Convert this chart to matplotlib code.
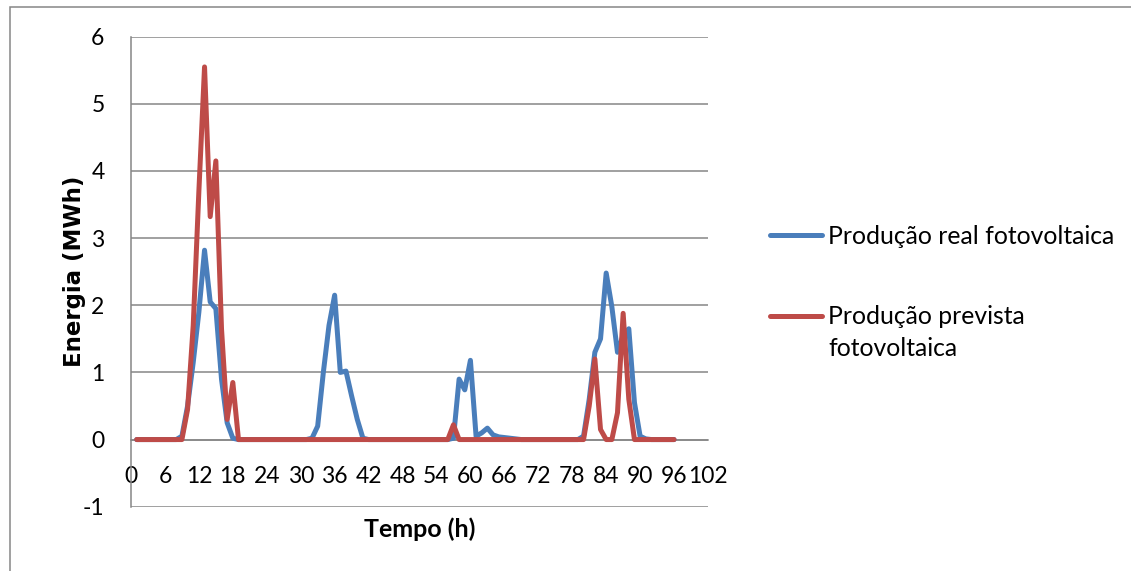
import matplotlib
matplotlib.use("Agg")
import matplotlib.pyplot as plt
from matplotlib.patches import Rectangle
from matplotlib.lines import Line2D

plt.rcParams['font.family'] = ['Lato', 'DejaVu Sans']
plt.rcParams['axes.unicode_minus'] = False

hours = list(range(1, 97))

real = [0, 0, 0, 0, 0, 0, 0, 0, 0.05, 0.5,
        1.15, 1.9, 2.82, 2.05, 1.95, 0.9, 0.25, 0.02, 0, 0,
        0, 0, 0, 0, 0, 0, 0, 0, 0, 0,
        0, 0.02, 0.2, 1.0, 1.7, 2.15, 1.0, 1.02, 0.65, 0.3,
        0.02, 0, 0, 0, 0, 0, 0, 0, 0, 0,
        0, 0, 0, 0, 0, 0, 0.02, 0.9, 0.74, 1.18,
        0.05, 0.1, 0.17, 0.07, 0.04, 0.03, 0.02, 0.01, 0, 0,
        0, 0, 0, 0, 0, 0, 0, 0, 0, 0.05,
        0.6, 1.3, 1.5, 2.48, 1.98, 1.3, 1.55, 1.65, 0.55, 0.05,
        0.01, 0, 0, 0, 0, 0]

previsto = [0, 0, 0, 0, 0, 0, 0, 0, 0, 0.45,
            1.7, 3.7, 5.55, 3.32, 4.15, 1.65, 0.3, 0.85, 0, 0,
            0, 0, 0, 0, 0, 0, 0, 0, 0, 0,
            0, 0, 0, 0, 0, 0, 0, 0, 0, 0,
            0, 0, 0, 0, 0, 0, 0, 0, 0, 0,
            0, 0, 0, 0, 0, 0, 0.22, 0, 0, 0,
            0, 0, 0, 0, 0, 0, 0, 0, 0, 0,
            0, 0, 0, 0, 0, 0, 0, 0, 0, 0,
            0.5, 1.2, 0.15, 0, 0, 0.4, 1.88, 0.6, 0, 0,
            0, 0, 0, 0, 0, 0]

xticks = list(range(0, 103, 6))
yticks = list(range(-1, 7))

label_real = "Produção real fotovoltaica"
label_prev = "Produção prevista\nfotovoltaica"

W, H = 1131, 571
fig = plt.figure(figsize=(W / 100, H / 100), dpi=100)
ax = fig.add_axes([131 / W, 1 - 506.7 / H, (708 - 131) / W, (506.7 - 36.7) / H])

grid_c = '#868686'
blue = '#4A7EBB'
red = '#BE4B48'
LW = 3.6

ax.plot(hours, real, color=blue, lw=LW, solid_joinstyle='round', solid_capstyle='round',
        label=label_real, zorder=3)
ax.plot(hours, previsto, color=red, lw=LW, solid_joinstyle='round', solid_capstyle='round',
        label=label_prev, zorder=4)

ax.set_xlim(0, 102)
ax.set_ylim(-1, 6)
ax.set_xticks(xticks)
ax.set_yticks(yticks)
ax.yaxis.grid(True, color=grid_c, lw=1.1)
ax.set_axisbelow(True)

for s in ['top', 'right']:
    ax.spines[s].set_visible(False)
ax.spines['left'].set_color(grid_c)
ax.spines['left'].set_linewidth(1.1)
ax.spines['bottom'].set_position(('data', 0))
ax.spines['bottom'].set_color(grid_c)
ax.spines['bottom'].set_linewidth(1.1)

ax.tick_params(axis='x', length=0, pad=19, labelsize=16.5)
ax.tick_params(axis='y', length=0, pad=19, labelsize=16.5)

ax.set_xlabel("Tempo (h)", fontsize=18, fontweight='bold')
ax.xaxis.set_label_coords(420 / W, 1 - 517 / H, transform=fig.transFigure)
ax.set_ylabel("Energia (MWh)", fontsize=16.5, fontweight='bold', family='DejaVu Sans')
ax.yaxis.set_label_coords(86 / W, 1 - 271 / H, transform=fig.transFigure)

# legend (Excel style: key aligned with first text line)
leg_fs = 17.8
fig.add_artist(Line2D([770 / W, 822 / W], [1 - 235 / H] * 2, color=blue, lw=LW,
                      solid_capstyle='round'))
fig.text(828 / W, 1 - 243.5 / H, label_real, fontsize=leg_fs, va='baseline', ha='left')
fig.add_artist(Line2D([770 / W, 822 / W], [1 - 316 / H] * 2, color=red, lw=LW,
                      solid_capstyle='round'))
fig.text(828 / W, 1 - 356.5 / H, label_prev, fontsize=leg_fs, va='baseline', ha='left',
         linespacing=1.48)

fig.patches.append(Rectangle((10 / W, -0.1), 1.2, 1 - 7 / H + 0.1,
                             transform=fig.transFigure, fill=False,
                             edgecolor=grid_c, lw=1.1, zorder=0))

fig.savefig("out.png", dpi=100)
